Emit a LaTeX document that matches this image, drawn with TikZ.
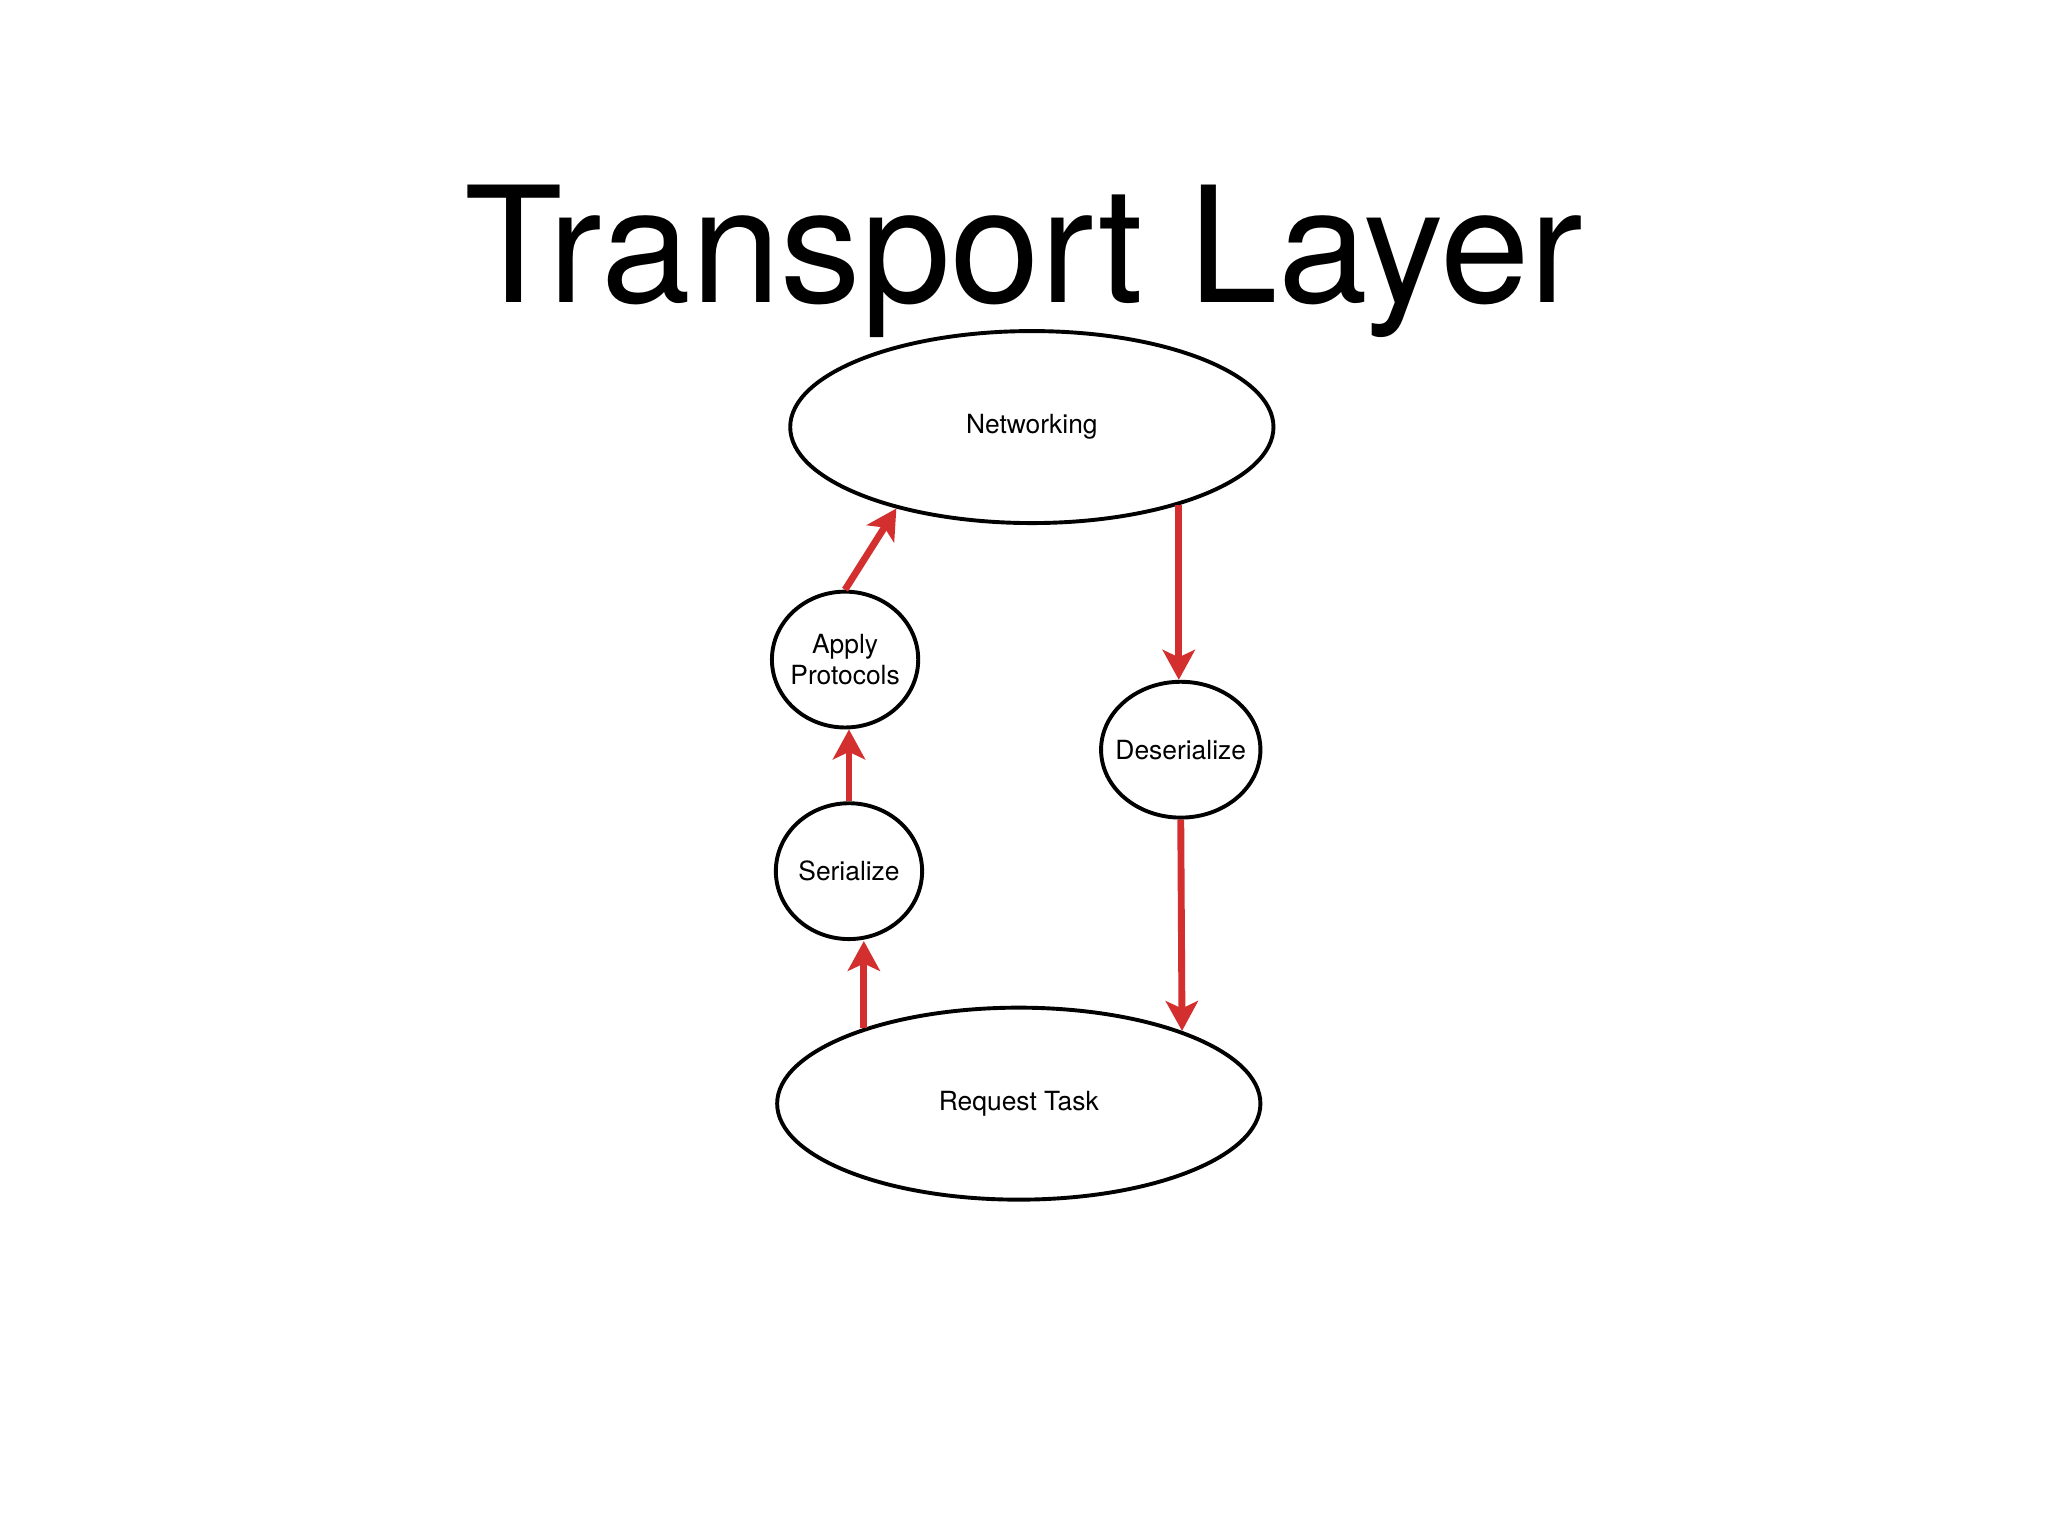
\documentclass[tikz,border=0pt]{standalone}
\usepackage{fontspec}
\setmainfont{TeX Gyre Heros}
\usepackage{tikz}
\usetikzlibrary{arrows.meta,shapes.geometric,calc}
\tikzset{>={Stealth[length=6.5pt,width=7pt,inset=1.6pt]}}
\definecolor{flowred}{RGB}{211,47,47}

\begin{document}
\begin{tikzpicture}[
    oval/.style={draw=black, line width=0.85pt, ellipse, inner sep=0pt, minimum width=3.7cm, minimum height=1.47cm, font=\fontsize{5.75}{6.8}\selectfont},
    bubble/.style={draw=black, line width=0.85pt, ellipse, inner sep=0pt, inner xsep=-0.08cm, align=center, minimum height=1.04cm, font=\fontsize{5.75}{6.8}\selectfont},
    flow/.style={->, draw=flowred, line width=1.5pt}
  ]
  \useasboundingbox (0,0) rectangle (15.68,11.76);

  \node[anchor=base, font=\fontsize{35.1}{40}\selectfont] (title) at (7.84,9.44) {Transport Layer};

  \node[oval] (net) at (7.90,8.49) {Networking};
  \node[oval] (req) at (7.80,3.31) {Request Task};

  \node[bubble, minimum width=1.12cm] (apply) at (6.47,6.71) {Apply\\Protocols};
  \node[bubble, minimum width=1.12cm] (ser) at (6.50,5.09) {Serialize};
  \node[bubble, minimum width=1.22cm] (des) at (9.04,6.02) {Deserialize};

  % outgoing side
  \draw[flow] (req.154) -- (req.154 |- ser.south);
  \draw[flow] (ser.north) -- (ser.north |- apply.south);
  \draw[flow] (apply.north) -- (net.211);

  % incoming side
  \draw[flow] (net.332) -- (net.332 |- des.north);
  \draw[flow] (des.south) -- (req.24);
\end{tikzpicture}
\end{document}
